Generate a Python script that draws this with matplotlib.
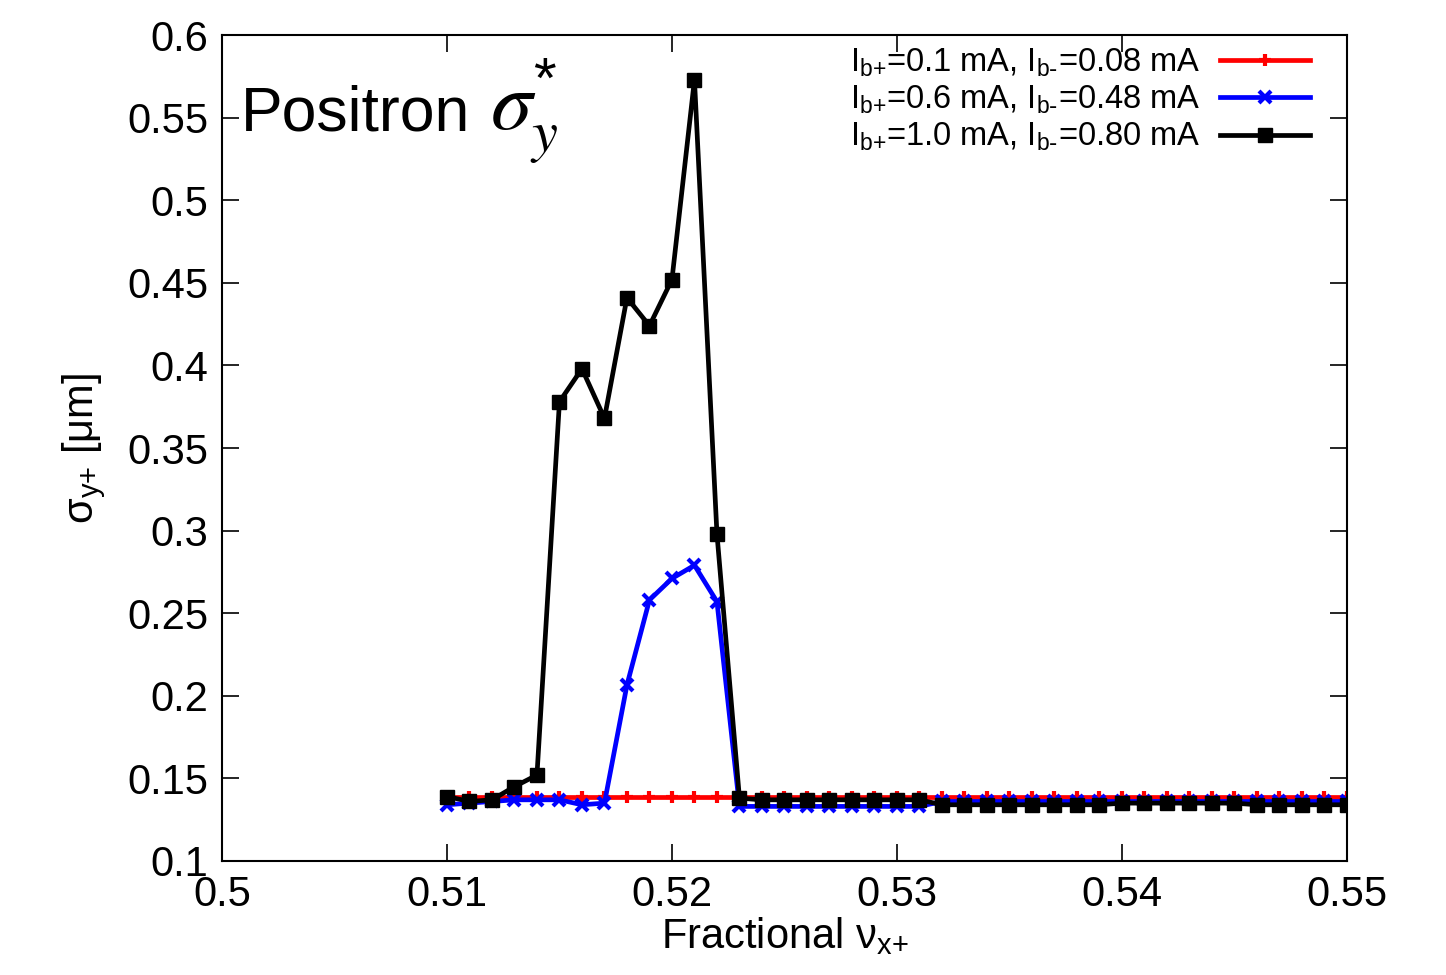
import numpy as np
import matplotlib
matplotlib.use("Agg")
import matplotlib.pyplot as plt

plt.rcParams['font.family'] = ['Liberation Sans', 'DejaVu Sans']
plt.rcParams['mathtext.default'] = 'regular'

tune = [round(0.510 + 0.001 * i, 3) for i in range(41)]

red = [0.139] * 41

blue = [0.134, 0.135, 0.136, 0.137, 0.137, 0.137, 0.134, 0.135,
        0.2065, 0.258, 0.271, 0.279, 0.257,
        0.133, 0.133, 0.133, 0.133, 0.133, 0.133, 0.133, 0.133, 0.133,
        0.136, 0.136, 0.136, 0.136, 0.136, 0.136, 0.136, 0.136, 0.136,
        0.136, 0.136, 0.136, 0.136, 0.136, 0.136, 0.136, 0.136, 0.136, 0.136]

black = [0.139, 0.136, 0.137, 0.145, 0.152,
         0.378, 0.398, 0.368, 0.441, 0.424, 0.452, 0.573, 0.298,
         0.138, 0.137, 0.137, 0.137, 0.137, 0.137, 0.137, 0.137, 0.137,
         0.134, 0.134, 0.134, 0.134, 0.134, 0.134, 0.134, 0.134, 0.135,
         0.135, 0.135, 0.135, 0.135, 0.135, 0.134, 0.134, 0.134, 0.134, 0.134]

labels = [r"I$_{b{+}}$=0.1 mA, I$_{b\text{-}}$=0.08 mA",
          r"I$_{b{+}}$=0.6 mA, I$_{b\text{-}}$=0.48 mA",
          r"I$_{b{+}}$=1.0 mA, I$_{b\text{-}}$=0.80 mA"]

xticks = [0.5, 0.51, 0.52, 0.53, 0.54, 0.55]
yticks = [0.1, 0.15, 0.2, 0.25, 0.3, 0.35, 0.4, 0.45, 0.5, 0.55, 0.6]

fig = plt.figure(figsize=(14.46, 9.75), dpi=100)
ax = fig.add_axes([0.1535, 0.117, 0.778, 0.847])

ax.plot(tune, red, color='#ff0000', lw=3.4, marker='+', ms=9, mew=3, label=labels[0])
ax.plot(tune, blue, color='#0000ff', lw=3.4, marker='x', ms=9, mew=3, label=labels[1])
ax.plot(tune, black, color='black', lw=3.4, marker='s', ms=9.5, mew=1, label=labels[2])

ax.set_xlim(0.5, 0.55)
ax.set_ylim(0.1, 0.6)
ax.set_xticks(xticks)
ax.set_xticklabels(['0.5', '0.51', '0.52', '0.53', '0.54', '0.55'])
ax.set_yticks(yticks)
ax.set_yticklabels(['0.1', '0.15', '0.2', '0.25', '0.3', '0.35', '0.4', '0.45', '0.5', '0.55', '0.6'])
ax.tick_params(direction='in', length=12, width=1.2, top=True, right=True,
               labelsize=30, pad=10)
for s in ax.spines.values():
    s.set_linewidth(1.5)

ax.set_xlabel(r"Fractional ν$_{x{+}}$", fontsize=30, labelpad=0)
ax.set_ylabel(r"σ$_{y{+}}$ [μm]", fontsize=30, labelpad=14)

ax.text(0.017, 0.885, "Positron", transform=ax.transAxes,
        fontsize=45, ha='left', va='baseline')
ax.text(0.238, 0.885, r"$\mathit{\sigma}_{\mathit{y}}^{*}$", transform=ax.transAxes,
        fontsize=60, ha='left', va='baseline', math_fontfamily='stix')

leg = ax.legend(loc='upper right', frameon=False, fontsize=23.5, markerfirst=False,
                handlelength=2.75, borderaxespad=0.2, labelspacing=0.15,
                handletextpad=0.6, bbox_to_anchor=(0.9845, 1.01))
for t in leg.get_texts():
    t.set_ha('right')

fig.savefig('out.png', dpi=100)
